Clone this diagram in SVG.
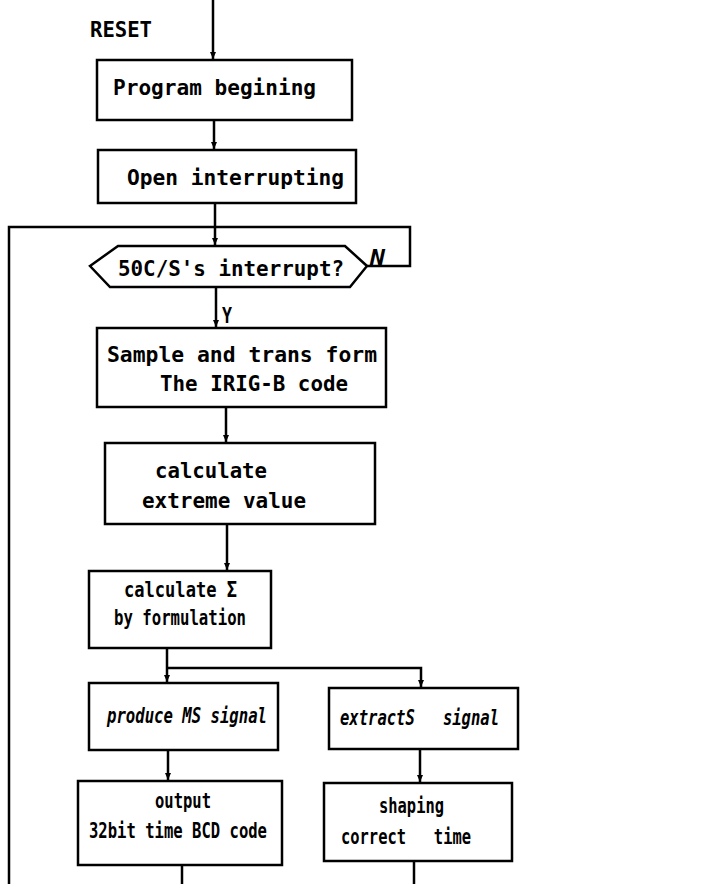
<svg xmlns="http://www.w3.org/2000/svg" width="707" height="884" viewBox="0 0 707 884">
<defs>
<marker id="ah" markerWidth="8" markerHeight="8" refX="7" refY="4" orient="auto" markerUnits="userSpaceOnUse">
<path d="M0,1 L7,4 L0,7 Z" fill="#000"/>
</marker>
<style>
.box{fill:#fff;stroke:#000;stroke-width:2.5}
.ln{fill:none;stroke:#000;stroke-width:2.5}
.t{font-family:"DejaVu Sans Mono","Liberation Mono",monospace;font-weight:bold;font-size:22px;fill:#000;white-space:pre}
.it{font-style:italic}
</style>
</defs>
<rect width="707" height="884" fill="#fff"/>
<g id="connectors">
<path class="ln" d="M213,0 V59" marker-end="url(#ah)"/>
<path class="ln" d="M214,120 V149" marker-end="url(#ah)"/>
<path class="ln" d="M215,203 V227"/>
<path class="ln" d="M367,266 H410 V227 H9 V884"/>
<path class="ln" d="M215,227 V245" marker-end="url(#ah)"/>
<path class="ln" d="M216,287 V327" marker-end="url(#ah)"/>
<path class="ln" d="M226,407 V442" marker-end="url(#ah)"/>
<path class="ln" d="M227,524 V570" marker-end="url(#ah)"/>
<path class="ln" d="M167,648 V682" marker-end="url(#ah)"/>
<path class="ln" d="M167,668 H421 V687" marker-end="url(#ah)"/>
<path class="ln" d="M168,750 V780" marker-end="url(#ah)"/>
<path class="ln" d="M420,749 V782" marker-end="url(#ah)"/>
<path class="ln" d="M182,865 V884"/>
<path class="ln" d="M414,861 V884"/>
<text class="t" x="90" y="37" font-size="19" textLength="62" lengthAdjust="spacingAndGlyphs">RESET</text>
<text class="t it" x="370" y="265" font-size="15" textLength="15" lengthAdjust="spacingAndGlyphs">N</text>
<text class="t" x="222" y="323" font-size="15" textLength="10" lengthAdjust="spacingAndGlyphs">Y</text>
</g>
<g id="n1">
<rect class="box" x="97" y="60" width="255" height="60"/>
<text class="t" x="113" y="95" textLength="203" lengthAdjust="spacingAndGlyphs">Program begining</text>
</g>
<g id="n2">
<rect class="box" x="98" y="150" width="258" height="53"/>
<text class="t" x="127" y="185" textLength="217" lengthAdjust="spacingAndGlyphs">Open interrupting</text>
</g>
<g id="n3">
<polygon class="box" points="90,266 118,246 345,246 367,266 350,287 110,287"/>
<text class="t" x="118" y="276" textLength="226" lengthAdjust="spacingAndGlyphs">50C/S's interrupt?</text>
</g>
<g id="n4">
<rect class="box" x="97" y="328" width="289" height="79"/>
<text class="t" x="107" y="362" textLength="270" lengthAdjust="spacingAndGlyphs">Sample and trans form</text>
<text class="t" x="160" y="391" textLength="188" lengthAdjust="spacingAndGlyphs">The IRIG-B code</text>
</g>
<g id="n5">
<rect class="box" x="105" y="443" width="270" height="81"/>
<text class="t" x="155" y="478" textLength="112" lengthAdjust="spacingAndGlyphs">calculate</text>
<text class="t" x="142" y="508" textLength="164" lengthAdjust="spacingAndGlyphs">extreme value</text>
</g>
<g id="n6">
<rect class="box" x="89" y="571" width="182" height="77"/>
<text class="t" x="124" y="597" textLength="113" lengthAdjust="spacingAndGlyphs">calculate Σ</text>
<text class="t" x="114" y="625" textLength="132" lengthAdjust="spacingAndGlyphs">by formulation</text>
</g>
<g id="n7">
<rect class="box" x="89" y="683" width="189" height="67"/>
<text class="t it" x="107" y="723" textLength="160" lengthAdjust="spacingAndGlyphs">produce MS signal</text>
</g>
<g id="n8">
<rect class="box" x="329" y="688" width="189" height="61"/>
<text class="t it" x="340" y="725" textLength="159" lengthAdjust="spacingAndGlyphs">extractS   signal</text>
</g>
<g id="n9">
<rect class="box" x="78" y="781" width="204" height="84"/>
<text class="t" x="155" y="808" textLength="56" lengthAdjust="spacingAndGlyphs">output</text>
<text class="t" x="89" y="838" textLength="178" lengthAdjust="spacingAndGlyphs">32bit time BCD code</text>
</g>
<g id="n10">
<rect class="box" x="324" y="783" width="188" height="78"/>
<text class="t" x="379" y="813" textLength="65" lengthAdjust="spacingAndGlyphs">shaping</text>
<text class="t" x="341" y="844" textLength="130" lengthAdjust="spacingAndGlyphs">correct   time</text>
</g>
</svg>
